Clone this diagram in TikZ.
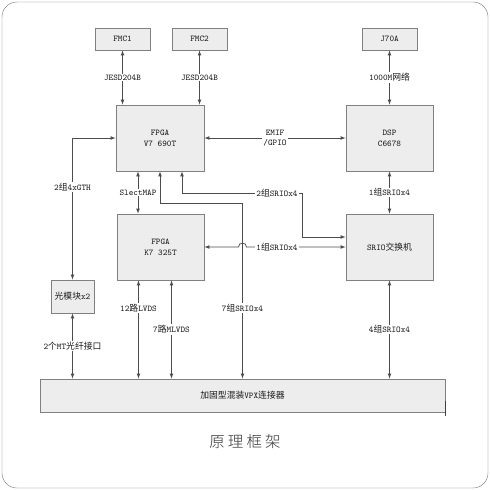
\documentclass[tikz,border=0pt]{standalone}
\usepackage{fontspec}
\newfontfamily\cjk{Noto Sans CJK SC}[Scale=1.0]
\newfontfamily\titlefont{Noto Sans CJK SC Light}[LetterSpace=20]

\begin{document}
\begin{tikzpicture}[x=1pt, y=-1pt, >=latex,
    blk/.style={draw=black!50, fill=black!7, line width=0.8pt, inner sep=0pt,
      align=center, text=black!90, font=\fontsize{8.8}{11}\selectfont\ttfamily},
    lbl/.style={fill=white, inner sep=1pt, align=center, text=black!90,
      font=\fontsize{8.8}{10}\selectfont\ttfamily},
    link/.style={<->, draw=black!70, line width=0.75pt}]
    \useasboundingbox (0, 0) rectangle (490, 490);
    \draw [black!55, rounded corners=15pt] (2, 2) rectangle (488, 488);

    \node [blk, minimum width=55pt, minimum height=22pt] (fmcA) at (122.5, 39) {FMC1};
    \node [blk, minimum width=55pt, minimum height=22pt] (fmcB) at (199.5, 39) {FMC2};
    \node [blk, minimum width=55pt, minimum height=22pt] (jack) at (389.5, 39) {J70A};
    \node [blk, minimum width=88pt, minimum height=66pt] (v7) at (160, 138) {FPGA\\V7 690T};
    \node [blk, minimum width=87pt, minimum height=66pt] (dsp) at (389.5, 138) {DSP\\C6678};
    \node [blk, minimum width=87pt, minimum height=66pt] (k7) at (160.5, 247) {FPGA\\K7 325T};
    \node [blk, minimum width=87pt, minimum height=66pt] (sw) at (389.5, 247) {SRIO{\cjk 交换机}};
    \node [blk, minimum width=43pt, minimum height=33pt] (opt) at (72.5, 296.5) {{\cjk 光模块}x2};
    \node [blk, minimum width=405pt, minimum height=33pt] (vpx) at (242.5, 395.5)
      {{\cjk 加固型混装}VPX{\cjk 连接器}};
    \draw [black!75, line width=1.6pt] ([yshift=-5pt]vpx.east) -- ++(0, 15);

    \draw [link] (fmcA.south) -- (fmcA.south |- v7.north)
      node [lbl, midway] {JESD204B};
    \draw [link] (fmcB.south) -- (fmcB.south |- v7.north)
      node [lbl, midway] {JESD204B};
    \draw [link] (jack.south) -- (dsp.north)
      node [lbl, midway] {1000M{\cjk 网络}};
    \draw [link] (v7.east) -- (dsp.west)
      node [lbl, midway] {EMIF\\/GPIO};
    \draw [link] (dsp.south) -- (sw.north)
      node [lbl, midway] {1{\cjk 组}SRIOx4};

    \draw [link] (v7.west) -| (opt.north);
    \node [lbl] (gth) at (72.5, 187) {2{\cjk 组}4xGTH};
    \draw [link] (opt.south) -- (opt.south |- vpx.north)
      node [lbl, midway] {2{\cjk 个}MT{\cjk 光纤接口}};

    \draw [link] ([xshift=-22pt]v7.south) -- ([xshift=-22.5pt]k7.north)
      node [lbl, midway] {SlectMAP};
    \draw [link] (v7.south) -- ++(0, 32) -| (vpx.north);
    \node [lbl] (sevenS) at (242.5, 308) {7{\cjk 组}SRIOx4};
    \draw [link] ([xshift=22pt]v7.south) -- ++(0, 22) -- ++(120, 0)
      |- ([yshift=10pt]sw.west);
    \node [lbl] (twoS) at (277, 193) {2{\cjk 组}SRIOx4};

    \draw [link] (k7.east) -- ([xshift=-4pt]vpx.north |- k7.east)
      arc [start angle=180, end angle=0, radius=4pt] -- (sw.west);
    \node [lbl] (oneS) at (277, 247) {1{\cjk 组}SRIOx4};

    \draw [link] ([xshift=-22pt]k7.south) -- ([xshift=-22pt]k7.south |- vpx.north)
      node [lbl, pos=0.28] {12{\cjk 路}LVDS};
    \draw [link] ([xshift=11pt]k7.south) -- ([xshift=11pt]k7.south |- vpx.north)
      node [lbl, midway] {7{\cjk 路}MLVDS};
    \draw [link] (sw.south) -- (sw.south |- vpx.north)
      node [lbl, midway] {4{\cjk 组}SRIOx4};

    \node [text=black!80, font=\titlefont\fontsize{15.5}{15.5}\selectfont] (title)
      at (245, 442) {原理框架};
\end{tikzpicture}
\end{document}
